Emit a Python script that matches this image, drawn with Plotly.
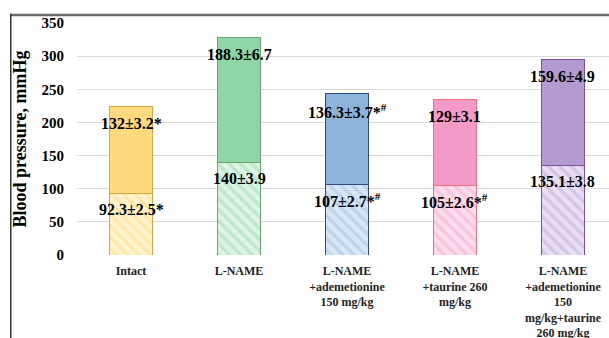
import plotly.graph_objects as go

categories = ["Intact", "L-NAME", "L-NAME +ademetionine 150 mg/kg",
              "L-NAME +taurine 260 mg/kg",
              "L-NAME +ademetionine 150 mg/kg+taurine 260 mg/kg"]
tick_labels = ["Intact", "L-NAME", "L-NAME<br>+ademetionine<br>150 mg/kg",
               "L-NAME<br>+taurine 260<br>mg/kg",
               "L-NAME<br>+ademetionine<br>150<br>mg/kg+taurine<br>260 mg/kg"]
lower_values = [92.3, 140, 107, 105, 135.1]
upper_values = [132, 188.3, 136.3, 129, 159.6]
lower_labels = ["92.3±2.5*", "140±3.9", "107±2.7*<sup>#</sup>", "105±2.6*<sup>#</sup>", "135.1±3.8"]
upper_labels = ["132±3.2*", "188.3±6.7", "136.3±3.7*<sup>#</sup>", "129±3.1", "159.6±4.9"]

upper_colors = ["#FFD97F", "#8FD6A6", "#8CB4DA", "#F49AC8", "#B39BCF"]
lower_bg = ["#FFF3CF", "#DDF3E4", "#D8E7F5", "#FCDCEC", "#E8DFF2"]
lower_fg = ["#FFE7A6", "#BDE7CA", "#BAD4EC", "#F8C3DE", "#D3C5E6"]
edge_colors = ["#D9A43A", "#6AA56A", "#2E4A86", "#F06E7E", "#7B4F9C"]

FONT = "Liberation Serif, Times New Roman, serif"

fig = go.Figure()
for i, cat in enumerate(categories):
    fig.add_trace(go.Bar(
        x=[cat], y=[lower_values[i]], width=0.39,
        marker=dict(color=lower_bg[i], line=dict(color=edge_colors[i], width=1),
                    pattern=dict(shape="\\", fgcolor=lower_fg[i], bgcolor=lower_bg[i],
                                 size=8, solidity=0.4, fillmode="replace")),
        showlegend=False, hoverinfo="skip"))
for i, cat in enumerate(categories):
    fig.add_trace(go.Bar(
        x=[cat], y=[upper_values[i]], width=0.39,
        marker=dict(color=upper_colors[i], line=dict(color=edge_colors[i], width=1)),
        showlegend=False, hoverinfo="skip"))

annotations = []
for cat, lo, up, ll, ul in zip(categories, lower_values, upper_values, lower_labels, upper_labels):
    annotations.append(dict(x=cat, y=lo, text=ll, showarrow=False, yanchor="middle",
                            yshift=-16, font=dict(family=FONT, size=16, color="black", weight="bold")))
    annotations.append(dict(x=cat, y=lo + up, text=ul, showarrow=False, yanchor="middle",
                            yshift=-17, font=dict(family=FONT, size=16, color="black", weight="bold")))

fig.update_layout(
    barmode="stack",
    width=609, height=338,
    margin=dict(l=77, r=0, t=23, b=83),
    paper_bgcolor="white", plot_bgcolor="white",
    annotations=annotations,
    xaxis=dict(type="category", range=[-0.5, 4.426], tickvals=categories, ticktext=tick_labels,
               showgrid=False, showline=False, zeroline=False, automargin=False,
               tickfont=dict(family=FONT, size=12, color="#222", weight="bold"),
               ticklabelstandoff=7),
    yaxis=dict(range=[0, 350], dtick=50, showgrid=True, gridcolor="#D9D9D9", gridwidth=1,
               zeroline=False, showline=False, automargin=False,
               tickfont=dict(family=FONT, size=15, color="black", weight="bold"),
               ticklabelstandoff=12,
               title=dict(text="Blood pressure, mmHg", standoff=10,
                          font=dict(family=FONT, size=18, color="black", weight="bold"))),
    shapes=[
        dict(type="line", xref="paper", yref="paper", x0=-0.126, x1=1.0, y0=1.0345, y1=1.0345,
             line=dict(color="#6B6B6B", width=2.5)),
        dict(type="line", xref="paper", yref="paper", x0=-0.1245, x1=-0.1245, y0=1.04, y1=-0.4,
             line=dict(color="#333333", width=1.5)),
    ],
)

fig.write_html("out.html", config={"displayModeBar": False},
               post_script="document.body.style.margin='0';")
